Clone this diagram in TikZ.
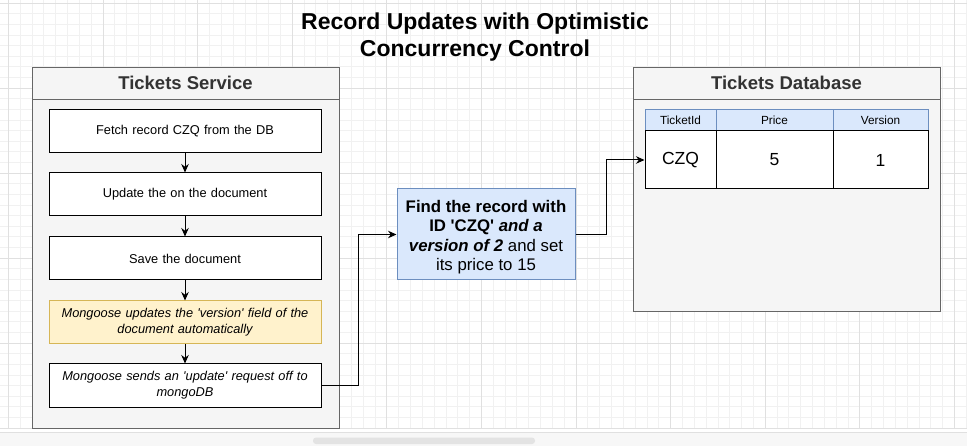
\documentclass[tikz,border=0pt]{standalone}
\usepackage{fontspec}
\setmainfont{Liberation Sans}
\usetikzlibrary{arrows.meta}
\definecolor{contfill}{HTML}{F5F5F5}
\definecolor{contline}{HTML}{666666}
\definecolor{headtext}{HTML}{333333}
\definecolor{yelfill}{HTML}{FFF2CC}
\definecolor{yelline}{HTML}{D6B656}
\definecolor{bluefill}{HTML}{DAE8FC}
\definecolor{blueline}{HTML}{6C8EBF}
\definecolor{gridminor}{HTML}{F1F1F1}
\definecolor{gridmajor}{HTML}{E0E0E0}
\begin{document}
\begin{tikzpicture}[x=1pt,y=-1pt,
  container/.style={draw=contline, fill=contfill, line width=0.9pt, inner sep=0pt},
  header/.style={text=headtext, font=\bfseries\fontsize{18.5}{21}\selectfont},
  stepbox/.style={draw=black, fill=white, line width=1pt, minimum width=272pt, minimum height=43pt, inner sep=2pt, align=center, text width=266pt, font=\fontsize{12.8}{16}\selectfont},
  notebox/.style={stepbox, draw=yelline, fill=yelfill, font=\itshape\fontsize{12.8}{16}\selectfont},
  ibox/.style={stepbox, font=\itshape\fontsize{12.8}{16}\selectfont},
  querybox/.style={draw=blueline, fill=bluefill, line width=1pt, minimum width=178pt, minimum height=91pt, align=center, text width=176pt, inner sep=0pt, font=\fontsize{16.8}{19.5}\selectfont},
  thcell/.style={draw=blueline, fill=bluefill, line width=1pt, minimum height=21pt, inner sep=0pt, font=\fontsize{11.8}{13}\selectfont},
  tdcell/.style={draw=black, fill=white, line width=1pt, minimum height=58pt, inner sep=0pt, font=\fontsize{17.5}{20}\selectfont},
  arr/.style={draw=black, line width=1pt, -{Stealth[length=8.5pt,width=7.5pt]}}
]
\useasboundingbox (0,0) rectangle (967,446);
\fill[white] (0,0) rectangle (967,446);
% grid
\foreach \i in {0,...,81} {\draw[gridminor, line width=0.6pt] ({8.3+\i*11.825},0) -- ({8.3+\i*11.825},428);}
\foreach \j in {0,...,40} {\draw[gridminor, line width=0.6pt] (0,{3+\j*10.625}) -- (967,{3+\j*10.625});}
\foreach \i in {0,...,10} {\draw[gridmajor, line width=0.7pt] ({8.3+\i*94.6},0) -- ({8.3+\i*94.6},428);}
\foreach \j in {0,...,5} {\draw[gridmajor, line width=0.7pt] (0,{3+\j*85}) -- (967,{3+\j*85});}
% bottom band
\fill[gray!6] (0,432) rectangle (967,446);
\draw[gridmajor, line width=0.7pt] (0,432) -- (967,432);
\fill[gray!22, rounded corners=3pt] (313,437.5) rectangle (535,444);

% title
\node[font=\bfseries\fontsize{23}{26.5}\selectfont, align=center] (title) at (475,37) {Record Updates with Optimistic\\Concurrency Control};

% Tickets Service container
\node[container, minimum width=307pt, minimum height=361pt] (svc) at (185.5,247.5) {};
\draw[contline, line width=0.9pt] (32,99) -- (339,99);
\node[header] (svchead) at (185.5,83) {Tickets Service};

\node[stepbox] (s1) at (185,131) {Fetch record CZQ from the DB};
\node[stepbox] (s2) at (185,194.5) {Update the on the document};
\node[stepbox] (s3) at (185,258.5) {Save the document};
\node[notebox] (s4) at (185,322.5) {Mongoose updates the \textquotesingle version\textquotesingle{} field of the\\document automatically};
\node[ibox] (s5) at (185,385.5) {Mongoose sends an \textquotesingle update\textquotesingle{} request off to\\mongoDB};

\draw[arr] (s1) -- (s2);
\draw[arr] (s2) -- (s3);
\draw[arr] (s3) -- (s4);
\draw[arr] (s4) -- (s5);

% query box
\node[querybox] (q) at (486,234.5) {};
\node[align=center, inner sep=0pt, font=\fontsize{16.8}{19.5}\selectfont] (qtext) at (486,237) {\textbf{Find the record with}\\\textbf{ID \textquotesingle CZQ\textquotesingle{} \textit{and a}}\\\textbf{\textit{version of 2}} and set\\its price to 15};

% Tickets Database container
\node[container, minimum width=307pt, minimum height=244pt] (db) at (786.5,189) {};
\draw[contline, line width=0.9pt] (633,99) -- (940,99);
\node[header] (dbhead) at (786.5,83) {Tickets Database};

% table
\node[thcell, minimum width=71pt] (h1) at (680.5,120.5) {TicketId};
\node[thcell, minimum width=117pt] (h2) at (774.5,120.5) {Price};
\node[thcell, minimum width=95pt] (h3) at (880.5,120.5) {Version};
\node[tdcell, minimum width=71pt] (d1) at (680.5,160) {CZQ};
\node[tdcell, minimum width=117pt] (d2) at (774.5,160) {5};
\node[tdcell, minimum width=95pt] (d3) at (880.5,160) {1};

% connectors
\draw[arr] (s5.east) -- ++(37,0) |- (q.west);
\draw[arr] (q.east) -- ++(31,0) |- (d1.west);
\end{tikzpicture}
\end{document}
